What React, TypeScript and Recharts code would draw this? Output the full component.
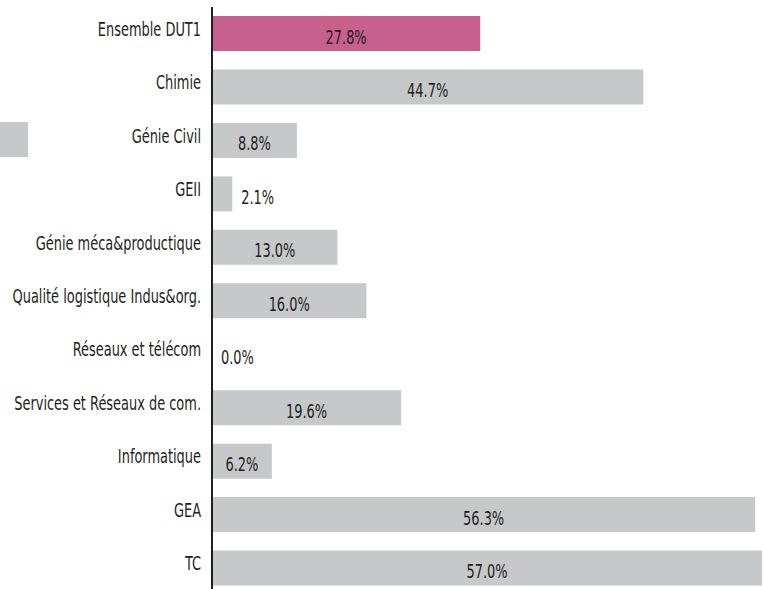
import React from "react";
import { BarChart, Bar, XAxis, YAxis, Cell, LabelList } from "recharts";

const categories = [
  "Ensemble DUT1",
  "Chimie",
  "Génie Civil",
  "GEII",
  "Génie méca&productique",
  "Qualité logistique Indus&org.",
  "Réseaux et télécom",
  "Services et Réseaux de com.",
  "Informatique",
  "GEA",
  "TC",
];
const values = [27.8, 44.7, 8.8, 2.1, 13.0, 16.0, 0.0, 19.6, 6.2, 56.3, 57.0];
const highlighted = ["Ensemble DUT1"];

const data = categories.map((name, i) => ({ name, value: values[i] }));

const FONT = "'DejaVu Sans Condensed', 'DejaVu Sans', sans-serif";
const FS = 20;
const SX = 0.72;
const TEXT = "#231f20";
const PINK = "#c7608c";
const GRAY = "#c7c8ca";

const CategoryTick = (props: any) => {
  const { x, y, payload } = props;
  return (
    <text
      transform={`translate(${x} ${y - 5}) scale(${SX} 1)`}
      x={0}
      y={0}
      dy="0.35em"
      textAnchor="end"
      fill={TEXT}
      fontFamily={FONT}
      fontSize={FS}
    >
      {payload.value}
    </text>
  );
};

const ValueLabel = (props: any) => {
  const { x, y, width, height, value } = props;
  const txt = `${Number(value).toFixed(1)}%`;
  const w = Math.max(0, Number(width) || 0);
  const inside = w > 50;
  const tx = inside ? x + w / 2 : x + w + 9;
  return (
    <text
      transform={`translate(${tx} ${y + height / 2 + 3}) scale(${SX} 1)`}
      x={0}
      y={0}
      dy="0.35em"
      textAnchor={inside ? "middle" : "start"}
      fill={TEXT}
      fontFamily={FONT}
      fontSize={FS}
    >
      {txt}
    </text>
  );
};

export default function App() {
  return (
    <div style={{ position: "absolute", left: 0, top: 0, width: 764, height: 589, overflow: "hidden", background: "#fff" }}>
      <div style={{ position: "absolute", left: 0, top: 122, width: 28, height: 35, background: GRAY }} />
      <BarChart
        width={764}
        height={595}
        data={data}
        layout="vertical"
        margin={{ top: 7, right: 2, bottom: 0, left: 0 }}
        barSize={35}
      >
        <XAxis type="number" domain={[0, "dataMax"]} hide />
        <YAxis
          type="category"
          dataKey="name"
          width={212}
          axisLine={{ stroke: TEXT, strokeWidth: 2 }}
          tickLine={false}
          tickSize={0}
          tickMargin={11}
          tick={<CategoryTick />}
          interval={0}
        />
        <Bar
          dataKey="value"
          isAnimationActive={false}
          minPointSize={(v: any) => (Number(v) === 0 ? 0.01 : 0)}
        >
          {data.map((d) => (
            <Cell key={d.name} fill={highlighted.includes(d.name) ? PINK : GRAY} />
          ))}
          <LabelList dataKey="value" content={<ValueLabel />} />
        </Bar>
      </BarChart>
    </div>
  );
}
